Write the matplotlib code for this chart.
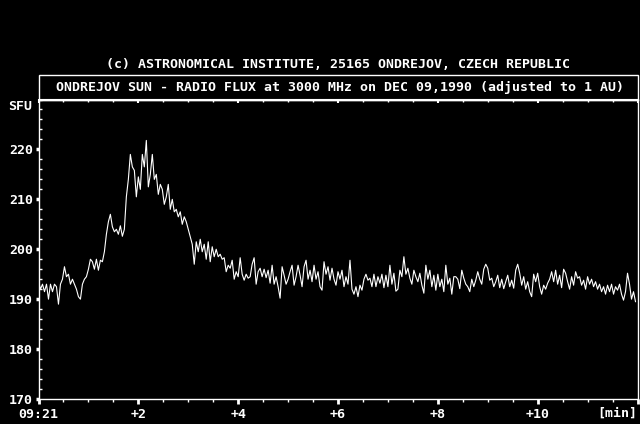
#!/usr/bin/env python3
"""Ondrejov solar radio flux at 3000 MHz, 1990-12-09, redrawn."""

import matplotlib

matplotlib.use("Agg")
import matplotlib.pyplot as plt
import numpy as np
from matplotlib.patches import Rectangle

BG = "#000000"
FG = "#FFFFFF"
FONT = "DejaVu Sans Mono"

HEADER = "(c) ASTRONOMICAL INSTITUTE, 25165 ONDREJOV, CZECH REPUBLIC"
TITLE = "ONDREJOV SUN - RADIO FLUX at 3000 MHz on DEC 09,1990 (adjusted to 1 AU)"

# flux [SFU], one sample every 2.4 s starting at 09:21, grouped per minute
flux_min0 = [193.5, 192, 193, 191.5, 193, 190, 193, 191.5, 193, 192.5, 189, 193, 194,
             196.5, 194.5, 195, 193, 194, 193, 192, 190.5, 190, 193, 194, 194.5]
flux_min1 = [196, 198, 197.5, 196, 198, 195.8, 197.8, 197.5, 199.5, 203, 205.5, 207, 204.5,
             203.5, 204, 203, 204.7, 202.6, 204, 210.5, 214, 219, 216.5, 215.8, 210.5]
flux_min2 = [214.5, 212, 219, 216.5, 221.8, 212.5, 215, 219, 214, 215, 211, 213, 212,
             209, 210.5, 213, 208, 210, 207.5, 208, 206.5, 207.5, 205, 206.5, 205.5]
flux_min3 = [204, 202.5, 201, 197, 201.5, 199.5, 202, 199.5, 201, 198, 201.5, 197.5, 200.5,
             198.5, 200, 198.5, 199, 198, 198.3, 195.5, 196.8, 196.2, 197.8, 194, 195.5]
flux_min4 = [194.5, 198.3, 195, 193.8, 195, 194.2, 194.5, 197, 198.3, 193, 195.5, 196.2, 194.5,
             196, 194.3, 195.8, 193.2, 196.8, 193, 194.5, 192.5, 190.2, 196.5, 194.8, 193]
flux_min5 = [194, 195.5, 196.8, 192.8, 194.5, 196.8, 194.8, 192.5, 196.5, 197.8, 194, 195.8, 193.5,
             196.8, 194, 195.5, 192.5, 191.8, 197.5, 195, 196.5, 193.8, 196.2, 194, 192.8]
flux_min6 = [195.5, 194, 195.8, 192.5, 194.5, 193, 197.8, 192, 191, 192.5, 190.5, 192.8, 191.8,
             194, 195, 193.8, 194.2, 192.5, 195, 192.5, 194.5, 193.2, 195, 192.3, 194.8]
flux_min7 = [192.5, 196.8, 193, 195.2, 191.6, 192, 195.8, 194.5, 198.5, 195, 196.2, 194.2, 193,
             195.8, 194.5, 193.5, 195.2, 192.8, 191.2, 196.8, 194, 195.8, 192.5, 194.8, 191.8]
flux_min8 = [195, 192.5, 194, 191.5, 196.8, 193, 194.2, 191, 194.5, 194.5, 194, 192.1, 195.8,
             194.2, 193, 192.5, 191.5, 194, 192.5, 193.8, 195.5, 194, 193, 196, 197]
flux_min9 = [196.2, 193.8, 194.2, 192.5, 193.5, 194.8, 192.3, 194, 192.1, 193.5, 194.8, 192.5, 193.8,
             192.2, 195.8, 197, 195.2, 192.8, 194.5, 192, 193.5, 191.5, 190.5, 195, 193.5]
flux_min10 = [195.2, 192.5, 191, 192.8, 192, 193.2, 194, 195.5, 193.5, 195.8, 193, 194.8, 192.3,
              196, 195.2, 193.5, 192, 194.5, 192.8, 195.5, 194.2, 194.5, 192.8, 193.8, 192]
flux_min11 = [194.5, 193, 194, 192.5, 193.5, 192, 193, 191.5, 192.5, 191, 192.8, 191.5, 193,
              191, 192.5, 191.8, 193, 191, 189.8, 191.5, 195.2, 193, 190, 191.5, 189.5]

flux = np.array(flux_min0 + flux_min1 + flux_min2 + flux_min3 + flux_min4 + flux_min5
                + flux_min6 + flux_min7 + flux_min8 + flux_min9 + flux_min10 + flux_min11)
minutes = np.arange(len(flux)) * 0.04

y_ticks = [170, 180, 190, 200, 210, 220]
x_ticks = [0, 2, 4, 6, 8, 10, 12]
x_labels = ["09:21", "+2", "+4", "+6", "+8", "+10", ""]


def main() -> None:
    fig = plt.figure(figsize=(6.4, 4.24), dpi=100)
    fig.patch.set_facecolor(BG)

    W, H = 640.0, 424.0
    left, right, top, bottom = 38.5, 637.5, 99.5, 399.0
    ax = fig.add_axes([left / W, 1 - bottom / H, (right - left) / W, (bottom - top) / H])
    ax.set_facecolor(BG)
    ax.plot(minutes, flux, color=FG, lw=0.8)

    ax.set_xlim(0, 12)
    ax.set_ylim(170, 230)
    for s in ax.spines.values():
        s.set_color(FG)
        s.set_linewidth(1.0)

    ax.set_xticks(x_ticks)
    ax.set_xticklabels(x_labels)
    ax.set_xticks(np.arange(0, 12.01, 0.5), minor=True)
    ax.set_yticks(y_ticks)
    ax.set_yticks(np.arange(170, 230.1, 2), minor=True)
    ax.tick_params(axis="x", which="major", direction="out", length=3.5, width=2,
                   color=FG, labelcolor=FG, pad=3)
    ax.tick_params(axis="x", which="minor", direction="out", length=2.5, width=1, color=FG)
    ax.tick_params(axis="y", which="major", direction="out", length=2.5, width=2.5,
                   color=FG, labelcolor=FG, pad=1.5)
    ax.tick_params(axis="y", which="minor", direction="in", length=2, width=1, color=FG)
    for lab in ax.get_xticklabels() + ax.get_yticklabels():
        lab.set_fontfamily(FONT)
        lab.set_fontsize(9.5)
        lab.set_fontweight("bold")
    ax.get_xticklabels()[0].set_ha("center")

    top_ax = ax.secondary_xaxis("top")
    top_ax.set_xticks(x_ticks)
    top_ax.set_xticklabels([])
    top_ax.set_xticks(np.arange(0, 12.01, 0.5), minor=True)
    top_ax.tick_params(which="major", direction="in", length=3, width=1.5, color=FG)
    top_ax.tick_params(which="minor", direction="in", length=2, width=1, color=FG)
    top_ax.spines["top"].set_color(FG)

    txt = dict(color=FG, family=FONT, fontsize=9.5, fontweight="bold")
    fig.text(8 / W, 1 - 107 / H, "SFU", ha="left", va="center", **txt)
    fig.text(637 / W, 1 - 413 / H, "[min]", ha="right", va="center", **txt)
    fig.text(338 / W, 1 - 64 / H, HEADER, ha="center", va="center", **txt)

    fig.patches.append(Rectangle((left / W, 1 - top / H), (right - left) / W, (top - 75) / H,
                                 transform=fig.transFigure, fill=False, edgecolor=FG, lw=1.0))
    fig.text(340 / W, 1 - 87 / H, TITLE, ha="center", va="center", **txt)

    fig.savefig("out.png", dpi=100, facecolor=BG)
    plt.close(fig)


if __name__ == "__main__":
    main()
